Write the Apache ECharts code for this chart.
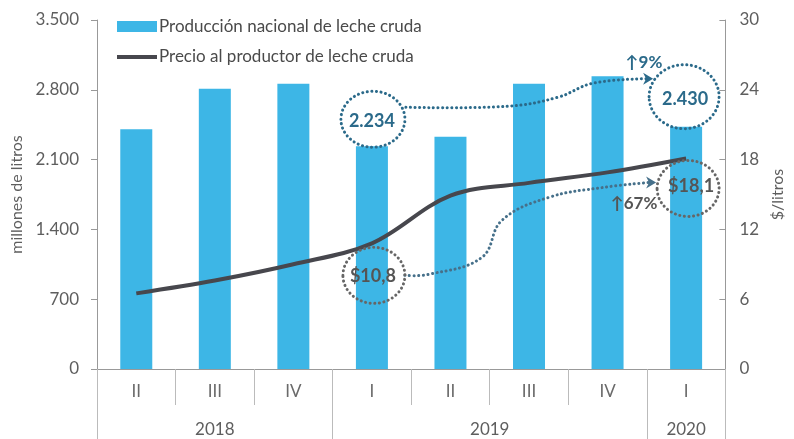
<!DOCTYPE html>
<html>
<head>
<meta charset="utf-8">
<script src="https://cdn.jsdelivr.net/npm/echarts@6/dist/echarts.min.js"></script>
<style>
  html, body { margin: 0; padding: 0; background: #fff; }
  #chart { width: 794px; height: 439px; }
</style>
</head>
<body>
<div id="chart"></div>
<script>
// datos
var trimestres = ['II', 'III', 'IV', 'I', 'II', 'III', 'IV', 'I'];
var anios = ['2018', '2019', '2020'];
var aniosPos = [1.5, 5, 7.5];        // centro de cada año, en trimestres
var aniosCortes = [0, 3, 7, 8];       // separadores de año
var produccion = [2405, 2810, 2860, 2234, 2330, 2860, 2935, 2430];
var precio = [6.5, 7.6, 9.0, 10.8, 14.9, 16.0, 16.9, 18.1];
var ticksLitros = [0, 700, 1400, 2100, 2800, 3500];

var fuente = 'Lato, "Open Sans", sans-serif';
var gris = '#5e5e5e';
var azulOsc = '#2b6a8a';

var chart = echarts.init(document.getElementById('chart'));

function miles(v) {
    return String(v).replace(/\B(?=(\d{3})+(?!\d))/g, '.');
}

var option = {
    animation: false,
    textStyle: { fontFamily: fuente },
    legend: {
        orient: 'vertical',
        left: 112,
        top: 13,
        itemWidth: 40,
        itemHeight: 11,
        itemGap: 13,
        textStyle: { fontSize: 17, color: '#4a4a4a', fontFamily: fuente, padding: [0, 0, 0, -3] },
        data: [
            { name: 'Producción nacional de leche cruda', icon: 'rect' },
            // línea sola, sin símbolo
            { name: 'Precio al productor de leche cruda', icon: 'path://M0,0M40,11M0,4H40V8H0Z' }
        ]
    },
    grid: { left: 97, right: 67, top: 20, bottom: 70 },
    xAxis: [
        {
            type: 'category',
            data: trimestres,
            axisLine: { lineStyle: { color: '#999', width: 1 } },
            axisTick: { show: true, interval: 0, length: 36, lineStyle: { color: '#bbb' } },
            axisLabel: { interval: 0, color: '#6a6a6a', fontSize: 17, margin: 14 }
        },
        {
            type: 'value',
            min: 0, max: 8,
            position: 'bottom',
            axisLine: { show: false },
            splitLine: { show: false },
            axisTick: { show: true, customValues: aniosCortes, length: 70, lineStyle: { color: '#bbb' } },
            axisLabel: {
                customValues: aniosPos,
                margin: 52,
                color: gris,
                fontSize: 17,
                formatter: function (v) {
                    var i = aniosPos.indexOf(v);
                    return i >= 0 ? anios[i] : '';
                }
            }
        }
    ],
    yAxis: [
        {
            type: 'value',
            min: 0, max: 3500, interval: 700,
            name: 'millones de litros',
            nameLocation: 'middle',
            nameRotate: 90,
            nameGap: 66,
            nameTextStyle: { color: gris, fontSize: 16, fontFamily: fuente },
            axisLine: { show: true, lineStyle: { color: '#999' } },
            axisTick: { show: true, length: 6, lineStyle: { color: '#999' } },
            splitLine: { show: false },
            axisLabel: {
                color: gris, fontSize: 17, margin: 18,
                customValues: ticksLitros,
                formatter: function (v) { return miles(v); }
            }
        },
        {
            type: 'value',
            min: 0, max: 30, interval: 6,
            name: '$/litros',
            nameLocation: 'middle',
            nameRotate: 90,
            nameGap: 36,
            nameTextStyle: { color: gris, fontSize: 16, fontFamily: fuente },
            axisLine: { show: true, lineStyle: { color: '#999' } },
            axisTick: { show: true, inside: true, length: 6, lineStyle: { color: '#999' } },
            splitLine: { show: false },
            axisLabel: { color: gris, fontSize: 17, margin: 14 }
        }
    ],
    series: [
        {
            name: 'Producción nacional de leche cruda',
            type: 'bar',
            data: produccion,
            barWidth: 32,
            itemStyle: { color: '#3db6e6' },
            z: 2
        },
        {
            name: 'Precio al productor de leche cruda',
            type: 'line',
            yAxisIndex: 1,
            data: precio,
            smooth: 0.35,
            symbol: 'none',
            lineStyle: { color: '#47474d', width: 4 },
            itemStyle: { color: '#47474d' },
            z: 3
        }
    ]
};
chart.setOption(option);

// anotaciones, ancladas a los datos
function px(ix, v, eje) {
    return chart.convertToPixel({ xAxisIndex: 0, yAxisIndex: eje }, [ix, v]);
}
var pA = px(3, produccion[3], 0);
var pB = px(7, produccion[7], 0);
var pC = px(3, precio[3], 1);
var pD = px(7, precio[7], 1);

var punteado = { lineDash: [0.1, 4.5], lineCap: 'round', lineWidth: 3, fill: null };

function elipse(cx, cy, rx, ry, color) {
    return {
        type: 'ellipse',
        shape: { cx: cx, cy: cy, rx: rx, ry: ry },
        style: Object.assign({ stroke: color }, punteado),
        z: 10
    };
}
function rotulo(x, y, txt, color, size) {
    return {
        type: 'text',
        x: x, y: y,
        style: {
            text: txt, fill: color, fontSize: size || 18, fontWeight: 'bold',
            fontFamily: fuente, align: 'center', verticalAlign: 'middle'
        },
        z: 11
    };
}
function flecha(x, y, color) {
    return {
        type: 'polygon',
        shape: { points: [[x - 9, y - 6], [x + 1, y], [x - 9, y + 6], [x - 6, y]] },
        style: { fill: color },
        z: 11
    };
}

var cA = [pA[0] + 1, pA[1] - 27];
var cB = [pB[0] - 2, pB[1] - 30];
var cC = [pC[0] + 2, pC[1] + 32];
var cD = [pD[0] + 2, pD[1] + 30];

chart.setOption({
    graphic: [
        {
            type: 'polyline',
            shape: {
                points: [
                    [cA[0] + 33, cA[1] - 12], [cA[0] + 135, cA[1] - 13],
                    [cA[0] + 185, cA[1] - 22], [cA[0] + 220, cA[1] - 36],
                    [cB[0] - 36, cB[1] - 18]
                ],
                smooth: 0.4
            },
            style: Object.assign({ stroke: azulOsc }, punteado),
            z: 9
        },
        flecha(cB[0] - 32, cB[1] - 18, azulOsc),
        elipse(cA[0], cA[1], 32, 28, azulOsc),
        rotulo(cA[0] - 1, cA[1] + 2, '2.234', azulOsc),
        elipse(cB[0], cB[1], 35, 32, azulOsc),
        rotulo(cB[0] + 1, cB[1] + 2, '2.430', azulOsc),
        rotulo(cB[0] - 40, cB[1] - 34, '↑9%', azulOsc, 17),
        {
            type: 'polyline',
            shape: {
                points: [
                    [cC[0] + 31, cC[1]], [cC[0] + 55, cC[1] - 1],
                    [cC[0] + 108, cC[1] - 18], [cC[0] + 128, cC[1] - 55],
                    [cC[0] + 175, cC[1] - 78], [cC[0] + 230, cC[1] - 88],
                    [cD[0] - 38, cD[1] - 6]
                ],
                smooth: 0.4
            },
            style: Object.assign({ stroke: '#46708a' }, punteado),
            z: 9
        },
        flecha(cD[0] - 33, cD[1] - 6, '#46708a'),
        elipse(cC[0], cC[1], 31, 28, '#666'),
        rotulo(cC[0] - 1, cC[1] + 1, '$10,8', '#555'),
        elipse(cD[0], cD[1], 31, 28, '#666'),
        rotulo(cD[0] + 3, cD[1] - 2, '$18,1', '#555'),
        rotulo(cD[0] - 54, cD[1] + 15, '↑67%', '#555', 17)
    ]
});
</script>
</body>
</html>
